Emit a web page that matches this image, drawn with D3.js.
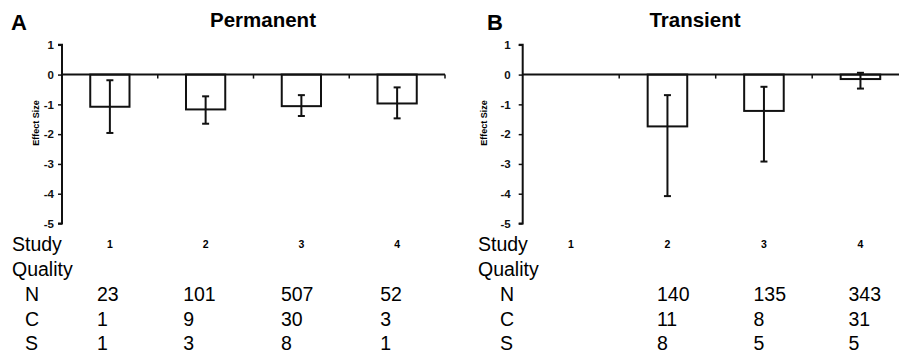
<!DOCTYPE html>
<html><head><meta charset="utf-8">
<script src="https://cdn.jsdelivr.net/npm/d3@7"></script>
<style>body{margin:0;background:#fff;} svg{display:block;font-family:"Liberation Sans",Arial,sans-serif;}</style>
</head><body>
<svg id="chart" width="899" height="356"></svg>
<script>
// ---- data ----
const studyQuality = ["1", "2", "3", "4"];
const yTicks = [1, 0, -1, -2, -3, -4, -5];
const permanentMean  = [-1.08, -1.17, -1.06, -0.97];
const permanentUpper = [-0.19, -0.73, -0.69, -0.43];
const permanentLower = [-1.96, -1.65, -1.39, -1.47];
const permanentN = ["23", "101", "507", "52"];
const permanentC = ["1", "9", "30", "3"];
const permanentS = ["1", "3", "8", "1"];
const transientMean  = [null, -1.74, -1.22, -0.15];
const transientUpper = [null, -0.69, -0.41, 0.06];
const transientLower = [null, -4.08, -2.92, -0.47];
const transientN = ["", "140", "135", "343"];
const transientC = ["", "11", "8", "31"];
const transientS = ["", "8", "5", "5"];

const svg = d3.select("#chart");

function panel(cfg) {
  const g = svg.append("g");
  const x = d3.scaleBand().domain(studyQuality).range([cfg.x0, cfg.x1]).padding(0);
  const y = d3.scaleLinear().domain([-5, 1]).range([223.5, 44.8]);
  const bw = x.bandwidth() * 0.41;

  // letter + title
  g.append("text").attr("x", cfg.letterX).attr("y", 30).attr("font-size", 22)
    .attr("font-weight", "bold").text(cfg.letter);
  g.append("text").attr("x", cfg.titleX).attr("y", 27).attr("font-size", 20.5)
    .attr("font-weight", "bold").attr("text-anchor", "middle").text(cfg.title);

  // y axis
  const yAxis = d3.axisLeft(y).tickValues(yTicks).tickSize(4).tickPadding(cfg.tickPad)
    .tickFormat(d => String(d));
  const ya = g.append("g").attr("transform", `translate(${cfg.x0},0)`).call(yAxis);
  ya.select(".domain").attr("stroke", "#111").attr("stroke-width", 2)
    .attr("d", `M-4,${y(1)}H0V${y(-5)}H-4`);
  ya.selectAll(".tick line").attr("stroke", "#111").attr("stroke-width", 1.5);
  ya.selectAll(".tick text").attr("font-size", 11.5).attr("font-weight", "bold")
    .attr("fill", "#111").attr("font-family", "Liberation Sans, Arial, sans-serif");

  // y label
  g.append("text").attr("transform", `translate(${cfg.labelX},123) rotate(-90)`)
    .attr("text-anchor", "middle").attr("font-size", 9).attr("font-weight", "bold")
    .text("Effect Size");

  // bars
  const data = cfg.mean.map((m, i) => ({k: studyQuality[i], m, hi: cfg.upper[i], lo: cfg.lower[i]}))
    .filter(d => d.m !== null);
  g.selectAll("rect.bar").data(data).enter().append("rect")
    .attr("x", d => x(d.k) + x.bandwidth() / 2 - bw / 2)
    .attr("y", d => y(0))
    .attr("width", bw)
    .attr("height", d => y(d.m) - y(0))
    .attr("fill", "#fff").attr("stroke", "#111").attr("stroke-width", 2);

  // x axis at zero
  g.append("line").attr("x1", cfg.x0).attr("x2", cfg.x1).attr("y1", y(0)).attr("y2", y(0))
    .attr("stroke", "#111").attr("stroke-width", 2);
  g.selectAll("line.xt").data(studyQuality).enter().append("line")
    .attr("x1", d => x(d) + x.bandwidth()).attr("x2", d => x(d) + x.bandwidth())
    .attr("y1", y(0)).attr("y2", y(0) + 4).attr("stroke", "#111").attr("stroke-width", 1.5);

  // error bars
  const eb = g.selectAll("g.err").data(data).enter().append("g");
  const cx = d => x(d.k) + x.bandwidth() / 2;
  eb.append("line").attr("x1", cx).attr("x2", cx).attr("y1", d => y(d.hi)).attr("y2", d => y(d.lo))
    .attr("stroke", "#111").attr("stroke-width", 2);
  ["hi", "lo"].forEach(key => {
    eb.append("line").attr("x1", d => cx(d) - 3.5).attr("x2", d => cx(d) + 3.5)
      .attr("y1", d => y(d[key])).attr("y2", d => y(d[key]))
      .attr("stroke", "#111").attr("stroke-width", 2);
  });

  // study quality category labels
  g.selectAll("text.cat").data(studyQuality).enter().append("text")
    .attr("x", d => x(d) + x.bandwidth() / 2).attr("y", 248)
    .attr("text-anchor", "middle").attr("font-size", 10.5).attr("font-weight", "bold").text(d => d);

  // row labels
  const rowFont = 19.5;
  g.append("text").attr("x", cfg.studyX).attr("y", 251).attr("font-size", rowFont).text("Study");
  g.append("text").attr("x", cfg.studyX).attr("y", 276).attr("font-size", rowFont).text("Quality");
  const rows = [["N", cfg.N, 301], ["C", cfg.C, 325.5], ["S", cfg.S, 350]];
  rows.forEach(([lab, vals, yy]) => {
    g.append("text").attr("x", cfg.rowX).attr("y", yy).attr("font-size", rowFont).text(lab);
    g.selectAll(null).data(vals).enter().append("text")
      .attr("x", (d, i) => x(studyQuality[i]) + x.bandwidth() / 2 + cfg.colOff[i])
      .attr("y", yy).attr("font-size", rowFont).text(d => d);
  });
}

panel({letter: "A", letterX: 11, title: "Permanent", titleX: 263, x0: 62, x1: 445,
  tickPad: 4, labelX: 39, studyX: 12, rowX: 25, colOff: [-13, -22.5, -20.5, -17],
  mean: permanentMean, upper: permanentUpper, lower: permanentLower,
  N: permanentN, C: permanentC, S: permanentS});
panel({letter: "B", letterX: 487, title: "Transient", titleX: 695, x0: 522.7, x1: 908.7,
  tickPad: 8, labelX: 487, studyX: 478, rowX: 500, colOff: [-10.5, -10.5, -10.5, -12],
  mean: transientMean, upper: transientUpper, lower: transientLower,
  N: transientN, C: transientC, S: transientS});
</script>
</body></html>
